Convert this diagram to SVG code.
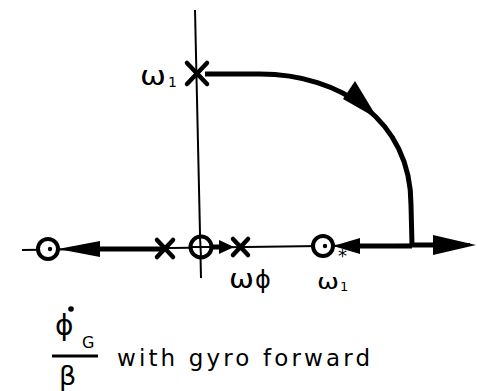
<svg xmlns="http://www.w3.org/2000/svg" width="477" height="391" viewBox="0 0 477 391">
<style>
.ax{stroke:#000;stroke-width:2;fill:none}
.thk{stroke:#000;stroke-width:5;fill:none;stroke-linecap:butt}
.zero{stroke:#000;stroke-width:4;fill:#fff}
.pole{stroke:#000;stroke-width:4.5;stroke-linecap:round}
.hd{fill:#000;stroke:none}
text{font-family:"DejaVu Sans","Liberation Sans",sans-serif;fill:#000}
</style>
<rect width="477" height="391" fill="#fff"/>
<g id="axes">
<line class="ax" x1="195" y1="10" x2="201" y2="278"/>
<line class="ax" x1="22" y1="250" x2="470" y2="244"/>
</g>
<g id="connectors">
<path class="thk" d="M205,74 L260,74 C340,74 411,120 411,205 L412,245"/>
<polygon class="hd" points="378,119 355,81 343,99"/>
<line class="thk" x1="165" y1="249" x2="95" y2="249"/>
<polygon class="hd" points="58,249 100,241 100,257"/>
<line class="thk" x1="211" y1="247" x2="222" y2="247"/>
<polygon class="hd" points="234,247 219,240 219,254"/>
<line class="thk" x1="412" y1="246" x2="356" y2="246"/>
<polygon class="hd" points="333,246 360,238 360,254"/>
<line class="thk" x1="412" y1="245" x2="438" y2="245"/>
<polygon class="hd" points="476,245 433,235 433,255"/>
</g>
<g id="omega1">
<path class="pole" d="M187,63 L207,84 M207,63 L187,84"/>
<text x="140" y="85" font-size="26" textLength="26" lengthAdjust="spacingAndGlyphs">ω</text>
<text x="168" y="87" font-size="14">1</text>
</g>
<g id="zero-left">
<circle class="zero" cx="48" cy="249" r="10"/>
<circle cx="50" cy="249" r="2.2" fill="#000"/>
</g>
<g id="pole-left">
<path class="pole" d="M157,240 L173,257 M173,240 L157,257"/>
</g>
<g id="zero-origin">
<circle class="zero" cx="201" cy="247" r="10.5"/>
<line class="ax" x1="200" y1="237" x2="201" y2="257"/>
<line class="ax" x1="191" y1="247" x2="211" y2="247"/>
</g>
<g id="omega-phi">
<path class="pole" d="M233,239 L248,255 M248,239 L233,255"/>
<text x="229" y="288" font-size="26" textLength="25" lengthAdjust="spacingAndGlyphs">ω</text>
<text x="255" y="288" font-size="24">ϕ</text>
</g>
<g id="omega1-star">
<circle class="zero" cx="323" cy="246" r="10"/>
<circle cx="325" cy="246" r="2.2" fill="#000"/>
<text x="317" y="289" font-size="22" textLength="22" lengthAdjust="spacingAndGlyphs">ω</text>
<text x="340" y="291" font-size="13">1</text>
<text x="338" y="262" font-size="18">*</text>
</g>
<g id="caption">
<text x="55" y="335" font-size="28">ϕ</text>
<circle cx="71" cy="309" r="2.8" fill="#000"/>
<text x="82" y="348" font-size="16">G</text>
<line x1="52" y1="356" x2="98" y2="356" stroke="#000" stroke-width="2.8"/>
<text x="59" y="385" font-size="27">β</text>
<text x="117" y="366" font-size="23" textLength="253" lengthAdjust="spacing">with gyro forward</text>
</g>
</svg>
